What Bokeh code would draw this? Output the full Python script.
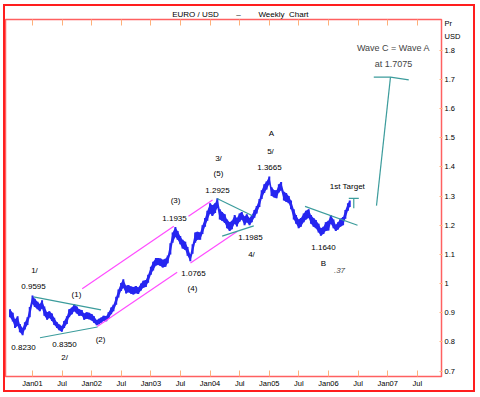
import pandas as pd
from bokeh.plotting import figure
from bokeh.models import LinearAxis, FixedTicker, Label, ColumnDataSource, Range1d
from bokeh.core.properties import value
from bokeh.embed import file_html
from bokeh.resources import INLINE

# ---------------- data ----------------
week_dates = [
    "2000-08-15", "2000-09-01", "2000-09-15", "2000-10-01", "2000-10-15", "2000-11-01", "2000-11-15",
    "2000-12-01", "2000-12-15",
    "2001-01-01", "2001-01-15", "2001-02-01", "2001-02-15", "2001-03-01", "2001-03-15", "2001-04-01",
    "2001-04-15", "2001-05-01", "2001-05-15", "2001-06-01", "2001-06-15", "2001-07-01", "2001-07-15",
    "2001-08-01", "2001-08-15", "2001-09-01", "2001-09-15", "2001-10-01", "2001-10-15", "2001-11-01",
    "2001-11-15", "2001-12-01", "2001-12-15",
    "2002-01-01", "2002-01-15", "2002-02-01", "2002-02-15", "2002-03-01", "2002-03-15", "2002-04-01",
    "2002-04-15", "2002-05-01", "2002-05-15", "2002-06-01", "2002-06-15", "2002-07-01", "2002-07-15",
    "2002-08-01", "2002-08-15", "2002-09-01", "2002-09-15", "2002-10-01", "2002-10-15", "2002-11-01",
    "2002-11-15", "2002-12-01", "2002-12-15",
    "2003-01-01", "2003-01-15", "2003-02-01", "2003-02-15", "2003-03-01", "2003-03-15", "2003-04-01",
    "2003-04-15", "2003-05-01", "2003-05-15", "2003-06-01", "2003-06-15", "2003-07-01", "2003-07-15",
    "2003-08-01", "2003-08-15", "2003-09-01", "2003-09-15", "2003-10-01", "2003-10-15", "2003-11-01",
    "2003-11-15", "2003-12-01", "2003-12-15",
    "2004-01-01", "2004-01-15", "2004-02-01", "2004-02-15", "2004-03-01", "2004-03-15", "2004-04-01",
    "2004-04-15", "2004-05-01", "2004-05-15", "2004-06-01", "2004-06-15", "2004-07-01", "2004-07-15",
    "2004-08-01", "2004-08-15", "2004-09-01", "2004-09-15", "2004-10-01", "2004-10-15", "2004-11-01",
    "2004-11-15", "2004-12-01", "2004-12-15",
    "2005-01-01", "2005-01-15", "2005-02-01", "2005-02-15", "2005-03-01", "2005-03-15", "2005-04-01",
    "2005-04-15", "2005-05-01", "2005-05-15", "2005-06-01", "2005-06-15", "2005-07-01", "2005-07-15",
    "2005-08-01", "2005-08-15", "2005-09-01", "2005-09-15", "2005-10-01", "2005-10-15", "2005-11-01",
    "2005-11-15", "2005-12-01", "2005-12-15",
    "2006-01-01", "2006-01-15", "2006-02-01", "2006-02-15", "2006-03-01", "2006-03-15", "2006-04-01",
    "2006-04-15", "2006-05-01", "2006-05-12",
]
low_usd = [
    0.885, 0.870, 0.848, 0.855, 0.833, 0.823, 0.843, 0.858, 0.885,
    0.930, 0.920, 0.912, 0.905, 0.915, 0.890, 0.876, 0.882, 0.872, 0.858, 0.848, 0.840, 0.835, 0.848,
    0.862, 0.885, 0.895, 0.905, 0.898, 0.890, 0.890, 0.876, 0.880, 0.878,
    0.874, 0.866, 0.857, 0.861, 0.866, 0.872, 0.871, 0.880, 0.895, 0.905, 0.928, 0.952, 0.975, 0.985,
    0.966, 0.970, 0.965, 0.963, 0.967, 0.964, 0.976, 0.986, 0.988, 1.003,
    1.030, 1.045, 1.062, 1.064, 1.060, 1.055, 1.058, 1.070, 1.100, 1.140, 1.160, 1.150, 1.135, 1.120,
    1.115, 1.095, 1.0765, 1.102, 1.140, 1.150, 1.150, 1.170, 1.195, 1.215,
    1.240, 1.232, 1.242, 1.260, 1.220, 1.215, 1.208, 1.190, 1.180, 1.186, 1.205, 1.196, 1.212, 1.220,
    1.200, 1.210, 1.200, 1.210, 1.226, 1.240, 1.262, 1.290, 1.310, 1.322,
    1.340, 1.300, 1.295, 1.292, 1.312, 1.320, 1.285, 1.280, 1.275, 1.255, 1.220, 1.205, 1.190, 1.195,
    1.210, 1.220, 1.225, 1.205, 1.195, 1.190, 1.175, 1.164, 1.170, 1.180,
    1.182, 1.205, 1.190, 1.180, 1.185, 1.195, 1.200, 1.222, 1.250, 1.262,
]
high_usd = [
    0.912, 0.900, 0.878, 0.888, 0.862, 0.848, 0.868, 0.885, 0.920,
    0.9595, 0.948, 0.938, 0.930, 0.943, 0.922, 0.902, 0.905, 0.898, 0.883, 0.868, 0.860, 0.855, 0.872,
    0.888, 0.912, 0.918, 0.930, 0.922, 0.912, 0.910, 0.898, 0.902, 0.900,
    0.896, 0.888, 0.875, 0.880, 0.884, 0.890, 0.889, 0.902, 0.918, 0.928, 0.955, 0.980, 1.002, 1.015,
    0.993, 0.995, 0.990, 0.988, 0.992, 0.987, 1.000, 1.010, 1.012, 1.030,
    1.058, 1.075, 1.088, 1.088, 1.086, 1.082, 1.085, 1.096, 1.138, 1.175, 1.1935, 1.180, 1.163, 1.150,
    1.143, 1.125, 1.100, 1.135, 1.175, 1.178, 1.175, 1.200, 1.225, 1.250,
    1.275, 1.268, 1.275, 1.2925, 1.255, 1.245, 1.238, 1.220, 1.210, 1.215, 1.235, 1.225, 1.240, 1.245,
    1.230, 1.238, 1.225, 1.235, 1.252, 1.266, 1.290, 1.320, 1.340, 1.350,
    1.3665, 1.330, 1.320, 1.320, 1.340, 1.348, 1.315, 1.310, 1.300, 1.285, 1.255, 1.235, 1.220, 1.225,
    1.240, 1.250, 1.255, 1.235, 1.225, 1.218, 1.205, 1.190, 1.195, 1.210,
    1.215, 1.235, 1.220, 1.202, 1.210, 1.222, 1.228, 1.252, 1.275, 1.285,
]

tick_years = [2001.0, 2001.5, 2002.0, 2002.5, 2003.0, 2003.5, 2004.0, 2004.5,
              2005.0, 2005.5, 2006.0, 2006.5, 2007.0, 2007.5]
tick_labels = ["Jan01", "Jul", "Jan02", "Jul", "Jan03", "Jul", "Jan04", "Jul",
               "Jan05", "Jul", "Jan06", "Jul", "Jan07", "Jul"]

price_ticks = [0.7, 0.8, 0.9, 1.0, 1.1, 1.2, 1.3, 1.4, 1.5, 1.6, 1.7, 1.8]
price_labels = ["0.7", "0.8", "0.9", "1", "1.1", "1.2", "1.3", "1.4", "1.5", "1.6", "1.7", "1.8"]
unit_ticks = [1.847, 1.891]
unit_labels = ["USD", "Pr"]

NB = "\u00a0"
title_pos = [2003.753, 2004.480, 2005.240]
title_parts = ["EURO / USD", "\u2013", "Weekly" + NB * 2 + "Chart"]

# magenta trend channel (pieces)
pink_x0 = [2001.840, 2003.635, 2002.093, 2003.669]
pink_y0 = [0.9824, 1.2307, 0.8530, 1.0703]
pink_x1 = [2003.387, 2004.041, 2003.444, 2004.463]
pink_y1 = [1.1966, 1.2865, 1.0385, 1.1791]

# teal trend lines / targets
teal_x0 = [2001.017, 2001.127, 2004.117, 2004.204, 2005.603, 2006.343, 2006.427, 2006.811]
teal_y0 = [0.9544, 0.8145, 1.2916, 1.1625, 1.2645, 1.2922, 1.2922, 1.2672]
teal_x1 = [2002.157, 2002.098, 2004.716, 2004.738, 2006.490, 2006.512, 2006.427, 2007.047]
teal_y1 = [0.9098, 0.8514, 1.2324, 1.1976, 1.1997, 1.2922, 1.2584, 1.7075]

roof_x = [2006.765, 2007.047, 2007.356]
roof_y = [1.7071, 1.7075, 1.6976]

ann_text = ["1/", "0.9595", "0.8230", "(1)", "0.8350", "2/", "(2)", "(3)", "1.1935", "1.0765",
            "(4)", "3/", "(5)", "1.2925", "1.1985", "4/", "A", "5/", "1.3665", "1st  Target",
            "1.1640", "B"]
ann_x = [2001.034, 2001.017, 2000.848, 2001.743, 2001.541, 2001.541, 2002.149, 2003.416, 2003.399,
         2003.720, 2003.703, 2004.142, 2004.142, 2004.125, 2004.682, 2004.699, 2005.037, 2005.020,
         2005.003, 2006.338, 2005.916, 2005.916]
ann_y = [1.0432, 0.9892, 0.7797, 0.9622, 0.7899, 0.7459, 0.8101, 1.2831, 1.2223, 1.0331,
         0.9824, 1.4284, 1.3777, 1.3203, 1.1581, 1.1007, 1.5128, 1.4520, 1.3980, 1.3338,
         1.1243, 1.0703]

FONT = "Liberation Sans"
BLUE = "#2626f0"
PINK = "#ff4cff"
TEAL = "#3c9c9c"
TICK = "#ffb07a"


def to_year(s):
    t = pd.Timestamp(s)
    days = 366 if t.is_leap_year else 365
    return t.year + (t.dayofyear - 1) / days


p = figure(width=468, height=384, output_backend="svg", toolbar_location=None,
           x_range=Range1d(2000.544, 2007.909), y_range=Range1d(0.6818, 1.9047),
           x_axis_location=None, y_axis_location=None,
           min_border_left=0, min_border_right=32, min_border_top=11, min_border_bottom=11,
           outline_line_color="#ff6060", outline_line_width=1.5,
           background_fill_color="white", border_fill_color="white")
p.styles = {"outline": "2px solid #ff1e1e"}
p.margin = (6, 0, 0, 5)

# bottom axis: month labels, orange ticks pointing inwards
xb = LinearAxis(ticker=FixedTicker(ticks=tick_years),
                major_label_overrides=dict(zip(tick_years, tick_labels)))
xb.axis_line_color = None
xb.major_tick_in = 6
xb.major_tick_out = 0
xb.major_tick_line_color = TICK
xb.minor_tick_line_color = None
xb.major_label_text_font = FONT
xb.major_label_text_font_size = "7.5px"
xb.major_label_text_color = "black"
xb.major_label_standoff = 2
p.add_layout(xb, "below")

# top axis: the chart title as labels, inward orange ticks at the month positions
xa = LinearAxis(ticker=FixedTicker(ticks=title_pos, minor_ticks=tick_years),
                major_label_overrides=dict(zip(title_pos, title_parts)))
xa.axis_line_color = None
xa.major_tick_line_color = None
xa.major_tick_in = 0
xa.major_tick_out = 0
xa.minor_tick_in = 6
xa.minor_tick_out = 0
xa.minor_tick_line_color = TICK
xa.major_label_text_font = FONT
xa.major_label_text_font_size = "8px"
xa.major_label_text_color = "black"
xa.major_label_standoff = 1
p.add_layout(xa, "above")

# right price axis (with the unit caption at its top)
ya = LinearAxis(ticker=FixedTicker(ticks=price_ticks + unit_ticks, minor_ticks=price_ticks),
                major_label_overrides=dict(zip(price_ticks + unit_ticks, price_labels + unit_labels)))
ya.axis_line_color = None
ya.major_tick_line_color = None
ya.major_tick_in = 0
ya.major_tick_out = 1
ya.minor_tick_in = 2
ya.minor_tick_out = 1
ya.minor_tick_line_color = TICK
ya.major_label_text_font = FONT
ya.major_label_text_font_size = "7.5px"
ya.major_label_text_color = "black"
ya.major_label_standoff = 2
p.add_layout(ya, "right")

p.grid.visible = False

src = ColumnDataSource(dict(x=[to_year(d) for d in week_dates], lo=low_usd, hi=high_usd))
p.varea(x="x", y1="lo", y2="hi", source=src, fill_color=BLUE, fill_alpha=1.0)
p.segment(x0="x", y0="lo", x1="x", y1="hi", source=src, line_color=BLUE, line_width=2)

p.segment(x0=pink_x0, y0=pink_y0, x1=pink_x1, y1=pink_y1, line_color=PINK, line_width=1.2)
p.segment(x0=teal_x0, y0=teal_y0, x1=teal_x1, y1=teal_y1, line_color=TEAL, line_width=1.2)
p.line(x=roof_x, y=roof_y, line_color=TEAL, line_width=1.2)

p.text(x=ann_x, y=ann_y, text=ann_text, text_font=value(FONT), text_font_size=value("8px"),
       text_align="center", text_baseline="middle", text_color="black")

p.add_layout(Label(x=2006.186, y=1.0466, text=".37", text_font=FONT, text_font_size="8px",
                   text_font_style="italic", text_align="center", text_baseline="middle"))
p.add_layout(Label(x=2007.098, y=1.8068, text="Wave C = Wave A", text_font=FONT,
                   text_font_size="9px", text_align="center", text_baseline="middle"))
p.add_layout(Label(x=2007.098, y=1.7527, text="at 1.7075", text_font=FONT,
                   text_font_size="9px", text_align="center", text_baseline="middle"))

open("out.html", "w").write(file_html(p, INLINE))
